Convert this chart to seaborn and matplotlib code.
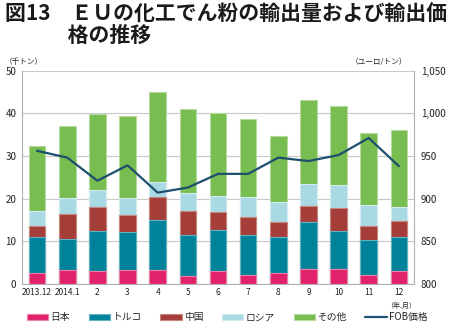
import numpy as np
import pandas as pd
import matplotlib
matplotlib.use("Agg")
import matplotlib.pyplot as plt
import seaborn as sns
from matplotlib.patches import Patch
from matplotlib.lines import Line2D

months = ["2013.12", "2014.1", "2", "3", "4", "5", "6", "7", "8", "9", "10", "11", "12"]
japan = [2.5, 3.3, 3.0, 3.4, 3.2, 2.0, 3.0, 2.2, 2.7, 3.5, 3.5, 2.2, 3.0]
turkey = [8.4, 7.3, 9.4, 8.7, 11.9, 9.6, 9.7, 9.4, 8.3, 11.1, 8.9, 8.2, 7.9]
china = [2.7, 5.9, 5.7, 4.0, 5.4, 5.6, 4.2, 4.2, 3.5, 3.7, 5.5, 3.3, 3.9]
russia = [3.4, 3.6, 3.9, 4.1, 3.4, 4.05, 3.7, 4.5, 4.6, 5.1, 5.2, 4.7, 3.2]
others = [15.4, 16.9, 17.8, 19.1, 21.0, 19.65, 19.4, 18.4, 15.6, 19.6, 18.5, 16.9, 18.0]
fob_price = [956, 948, 921, 939, 907, 913, 929, 929, 948, 944, 951, 971, 938]

series_names = ["日本", "トルコ", "中国", "ロシア", "その他"]
series_values = [japan, turkey, china, russia, others]
colors = ["#E0226B", "#00839A", "#A53D38", "#A9D9E3", "#77BD4F"]
edge_colors = ["#EE7FA8", "#5FB3C2", "#C98580", "#D3ECF2", "#B5DC9C"]
line_color = "#1D4F6E"

sns.set_theme(style="white")
plt.rcParams["font.family"] = ["Noto Sans CJK JP", "DejaVu Sans"]

fig = plt.figure(figsize=(4.5, 3.28), dpi=100)
ax = fig.add_axes([0.049, 0.134, 0.871, 0.651])

# stacked bars: draw cumulative totals from the top segment down
cum = np.cumsum(np.array(series_values), axis=0)
for i in reversed(range(len(series_names))):
    df = pd.DataFrame({"month": months, "value": cum[i]})
    sns.barplot(data=df, x="month", y="value", order=months, color=colors[i],
                width=0.55, ax=ax, saturation=1, edgecolor=edge_colors[i],
                linewidth=0.8, errorbar=None)

ax.set_ylim(0, 50)
ax.set_xlim(-0.5, len(months) - 0.5)
ax.set_yticks(range(0, 51, 10))
ax.yaxis.grid(True, color="#C8C8C8", linewidth=0.8)
ax.set_axisbelow(True)
ax.set_xlabel("")
ax.set_ylabel("")
for side in ["left", "right", "bottom"]:
    ax.spines[side].set_color("#B0B0B0")
    ax.spines[side].set_linewidth(0.8)
ax.spines["top"].set_visible(False)
ax.tick_params(axis="y", labelsize=7, length=0, pad=4, colors="#222222")
ax.tick_params(axis="x", labelsize=6, length=0, pad=3, colors="#222222")
ax.set_xticks(np.arange(-0.5, len(months) + 0.5, 1), minor=True)
ax.tick_params(axis="x", which="minor", length=3, color="#B0B0B0", width=0.8)

ax2 = ax.twinx()
sns.lineplot(x=np.arange(len(months)), y=fob_price, ax=ax2, color=line_color,
             linewidth=1.6)
ax2.set_ylim(800, 1050)
ax2.set_yticks(range(800, 1051, 50))
ax2.set_yticklabels([f"{v:,}" for v in range(800, 1051, 50)])
ax2.tick_params(axis="y", labelsize=7, length=0, pad=5, colors="#222222")
for side in ["left", "right", "bottom", "top"]:
    ax2.spines[side].set_visible(False)
ax2.set_ylabel("")

fig.text(0.012, 0.988, "図13　ＥＵの化工でん粉の輸出量および輸出価\n　　　格の推移",
         fontsize=15, fontweight="bold", va="top", ha="left",
         linespacing=1.0, color="#1A1A1A")
fig.text(0.01, 0.8, "（千トン）", fontsize=5.5, ha="left", va="bottom", color="#222222")
fig.text(0.905, 0.8, "（ユーロ/トン）", fontsize=5.5, ha="right", va="bottom", color="#222222")
fig.text(0.925, 0.067, "（年.月）", fontsize=5, ha="right", va="center", color="#222222")

handles = [Patch(facecolor=c, edgecolor=e, linewidth=0.8) for c, e in zip(colors, edge_colors)]
handles.append(Line2D([0], [0], color=line_color, linewidth=1.6))
labels = series_names + ["FOB価格"]
fig.legend(handles, labels, loc="center", bbox_to_anchor=(0.505, 0.033), ncol=6,
           frameon=False, fontsize=7, handlelength=2.2, handleheight=0.6,
           handletextpad=0.25, columnspacing=1.9)

fig.savefig("out.png", dpi=100)
